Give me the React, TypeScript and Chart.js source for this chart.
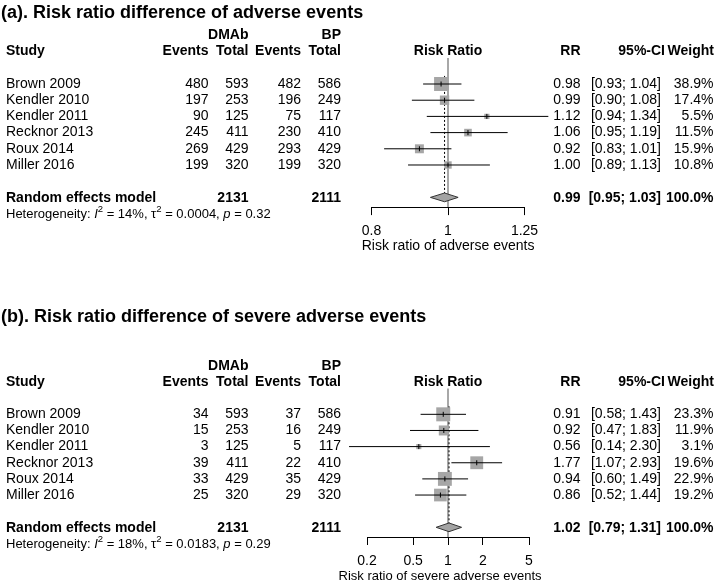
import React, { useEffect, useRef } from 'react';
import { Chart, registerables } from 'chart.js';

Chart.register(...registerables);

const FONT = "'Liberation Sans', Arial, Helvetica, sans-serif";

// ---------- shared data ----------
const studies = ['Brown 2009', 'Kendler 2010', 'Kendler 2011', 'Recknor 2013', 'Roux 2014', 'Miller 2016'];
const dmabTotals = [593, 253, 125, 411, 429, 320];
const bpTotals = [586, 249, 117, 410, 429, 320];

// ---------- panel (a) ----------
const aTitle = '(a). Risk ratio difference of adverse events';
const aDmabEvents = [480, 197, 90, 245, 269, 199];
const aBpEvents = [482, 196, 75, 230, 293, 199];
const aRR = [0.98, 0.99, 1.12, 1.06, 0.92, 1.0];
const aLower = [0.93, 0.9, 0.94, 0.95, 0.83, 0.89];
const aUpper = [1.04, 1.08, 1.34, 1.19, 1.01, 1.13];
const aWeight = [38.9, 17.4, 5.5, 11.5, 15.9, 10.8];
const aPooled = [0.99, 0.95, 1.03];
const aTotals = [2131, 2111];
const aHet = ['14%', '0.0004', '0.32'];
const aTicks = [0.8, 1, 1.25];
const aTickLabels = ['0.8', '1', '1.25'];
const aAxisTitle = 'Risk ratio of adverse events';

// ---------- panel (b) ----------
const bTitle = '(b). Risk ratio difference of severe adverse events';
const bDmabEvents = [34, 15, 3, 39, 33, 25];
const bBpEvents = [37, 16, 5, 22, 35, 29];
const bRR = [0.91, 0.92, 0.56, 1.77, 0.94, 0.86];
const bLower = [0.58, 0.47, 0.14, 1.07, 0.6, 0.52];
const bUpper = [1.43, 1.83, 2.3, 2.93, 1.49, 1.44];
const bWeight = [23.3, 11.9, 3.1, 19.6, 22.9, 19.2];
const bPooled = [1.02, 0.79, 1.31];
const bTotals = [2131, 2111];
const bHet = ['18%', '0.0183', '0.29'];
const bTicks = [0.2, 0.5, 1, 2, 5];
const bTickLabels = ['0.2', '0.5', '1', '2', '5'];
const bAxisTitle = 'Risk ratio of severe adverse events';

// ---------- layout (positions / styles) ----------
const Y_TOP = -0.6;
const Y_BOTTOM = 8.6;
const POOLED_ROW = 8;
const COL = {
  study: 6,
  dmabEv: 208.5,
  dmabTot: 248.5,
  bpEv: 301,
  bpTot: 341,
  rr: 580.5,
  ci: 661,
  ciHead: 665,
  w: 713.5,
  wHead: 714,
};
const MAX_SQUARE = 14;

type Panel = {
  title: string;
  ev1: number[];
  ev2: number[];
  rr: number[];
  lo: number[];
  hi: number[];
  weight: number[];
  pooled: number[];
  totals: number[];
  het: string[];
  ticks: number[];
  tickLabels: string[];
  axisTitle: string;
  axisTitleX: number;
  axisTitleSize: number;
  top: number;
  height: number;
  padTop: number;
  padBottom: number;
  padLeft: number;
  padRight: number;
  titleY: number;
};

const panelA: Panel = {
  title: aTitle, ev1: aDmabEvents, ev2: aBpEvents, rr: aRR, lo: aLower, hi: aUpper,
  weight: aWeight, pooled: aPooled, totals: aTotals, het: aHet, ticks: aTicks,
  tickLabels: aTickLabels, axisTitle: aAxisTitle, axisTitleX: 361.7, axisTitleSize: 14,
  top: 0, height: 292, padTop: 58.1, padBottom: 34.9, padLeft: 371.5, padRight: 192.5, titleY: 12.7,
};

const panelB: Panel = {
  title: bTitle, ev1: bDmabEvents, ev2: bBpEvents, rr: bRR, lo: bLower, hi: bUpper,
  weight: bWeight, pooled: bPooled, totals: bTotals, het: bHet, ticks: bTicks,
  tickLabels: bTickLabels, axisTitle: bAxisTitle, axisTitleX: 338.5, axisTitleSize: 13,
  top: 292, height: 300, padTop: 96.5, padBottom: 5, padLeft: 367, padRight: 188, titleY: 24.7,
};

function txt(ctx: CanvasRenderingContext2D, s: string, x: number, y: number, align: CanvasTextAlign) {
  ctx.textAlign = align;
  ctx.fillText(s, x, y);
}

function drawHet(ctx: CanvasRenderingContext2D, x: number, y: number, het: string[]) {
  const n = `13px ${FONT}`;
  const it = `italic 13px ${FONT}`;
  const sup = `9.5px ${FONT}`;
  const parts = [
    { t: 'Heterogeneity: ', f: n, dy: 0 },
    { t: 'I', f: it, dy: 0 },
    { t: '2', f: sup, dy: -5 },
    { t: ` = ${het[0]}, \u03C4`, f: n, dy: 0 },
    { t: '2', f: sup, dy: -5 },
    { t: ` = ${het[1]}, `, f: n, dy: 0 },
    { t: 'p', f: it, dy: 0 },
    { t: ` = ${het[2]}`, f: n, dy: 0 },
  ];
  ctx.textAlign = 'left';
  let cx = x;
  for (const p of parts) {
    ctx.font = p.f;
    ctx.fillText(p.t, cx, y + p.dy);
    cx += ctx.measureText(p.t).width;
  }
}

function drawTable(chart: any, p: Panel) {
  const ctx: CanvasRenderingContext2D = chart.ctx;
  const ys = chart.scales.y;
  const xs = chart.scales.x;
  const rowY = (r: number) => ys.getPixelForValue(r);
  ctx.save();
  ctx.fillStyle = '#000';
  ctx.textBaseline = 'middle';

  ctx.font = `bold 18px ${FONT}`;
  txt(ctx, p.title, 1, p.titleY, 'left');

  ctx.font = `bold 14px ${FONT}`;
  txt(ctx, 'DMAb', COL.dmabTot, rowY(-2), 'right');
  txt(ctx, 'BP', COL.bpTot, rowY(-2), 'right');
  const hy = rowY(-1);
  txt(ctx, 'Study', COL.study, hy, 'left');
  txt(ctx, 'Events', COL.dmabEv, hy, 'right');
  txt(ctx, 'Total', COL.dmabTot, hy, 'right');
  txt(ctx, 'Events', COL.bpEv, hy, 'right');
  txt(ctx, 'Total', COL.bpTot, hy, 'right');
  txt(ctx, 'Risk Ratio', xs.getPixelForValue(1), hy, 'center');
  txt(ctx, 'RR', COL.rr, hy, 'right');
  txt(ctx, '95%-CI', COL.ciHead, hy, 'right');
  txt(ctx, 'Weight', COL.wHead, hy, 'right');

  ctx.font = `14px ${FONT}`;
  studies.forEach((s, i) => {
    const y = rowY(i + 1);
    txt(ctx, s, COL.study, y, 'left');
    txt(ctx, String(p.ev1[i]), COL.dmabEv, y, 'right');
    txt(ctx, String(dmabTotals[i]), COL.dmabTot, y, 'right');
    txt(ctx, String(p.ev2[i]), COL.bpEv, y, 'right');
    txt(ctx, String(bpTotals[i]), COL.bpTot, y, 'right');
    txt(ctx, p.rr[i].toFixed(2), COL.rr, y, 'right');
    txt(ctx, `[${p.lo[i].toFixed(2)}; ${p.hi[i].toFixed(2)}]`, COL.ci, y, 'right');
    txt(ctx, `${p.weight[i].toFixed(1)}%`, COL.w, y, 'right');
  });

  ctx.font = `bold 14px ${FONT}`;
  const py = rowY(POOLED_ROW) + 1.2;
  txt(ctx, 'Random effects model', COL.study, py, 'left');
  txt(ctx, String(p.totals[0]), COL.dmabTot, py, 'right');
  txt(ctx, String(p.totals[1]), COL.bpTot, py, 'right');
  txt(ctx, p.pooled[0].toFixed(2), COL.rr, py, 'right');
  txt(ctx, `[${p.pooled[1].toFixed(2)}; ${p.pooled[2].toFixed(2)}]`, COL.ci, py, 'right');
  txt(ctx, '100.0%', COL.w, py, 'right');

  drawHet(ctx, COL.study, rowY(POOLED_ROW + 1) + 1.2, p.het);

  // x-axis title (drawn here so it is not squeezed to the axis width)
  ctx.font = `${p.axisTitleSize}px ${FONT}`;
  txt(ctx, p.axisTitle, p.axisTitleX, chart.chartArea.bottom + 39.5, 'left');
  ctx.restore();
}

function buildConfig(p: Panel): any {
  const maxW = Math.max(...p.weight);
  const points = p.rr.map((v, i) => ({ x: v, y: i + 1 }));
  const datasets: any[] = [];
  // reference line at RR = 1
  datasets.push({
    type: 'line',
    data: [{ x: 1, y: Y_TOP }, { x: 1, y: Y_BOTTOM }],
    borderColor: '#8c8c8c', borderWidth: 1.5, pointRadius: 0, order: 10, clip: false,
  });
  // pooled estimate dotted line
  datasets.push({
    type: 'line',
    data: [{ x: p.pooled[0], y: 0.5 }, { x: p.pooled[0], y: POOLED_ROW }],
    borderColor: '#000', borderWidth: 1, borderDash: [2, 2], pointRadius: 0, order: 9, clip: false,
  });
  // weight squares
  datasets.push({
    type: 'scatter',
    data: points,
    pointStyle: 'rect',
    pointRadius: p.weight.map((w) => (MAX_SQUARE * Math.sqrt(w / maxW)) / Math.SQRT2),
    pointBackgroundColor: '#a6a6a6',
    pointBorderWidth: 0,
    order: 8, clip: false,
  });
  // confidence intervals
  p.rr.forEach((_, i) => {
    datasets.push({
      type: 'line',
      data: [{ x: p.lo[i], y: i + 1 }, { x: p.hi[i], y: i + 1 }],
      borderColor: '#000', borderWidth: 1, pointRadius: 0, order: 5, clip: false,
    });
  });
  // point estimate tick marks
  datasets.push({
    type: 'scatter',
    data: points,
    pointStyle: 'line',
    pointRotation: 90,
    pointRadius: 2.5,
    pointBorderColor: '#000',
    pointBorderWidth: 1,
    order: 4, clip: false,
  });
  // pooled diamond
  const h = 0.27;
  datasets.push({
    type: 'line',
    data: [
      { x: p.pooled[1], y: POOLED_ROW },
      { x: p.pooled[0], y: POOLED_ROW - h },
      { x: p.pooled[2], y: POOLED_ROW },
      { x: p.pooled[0], y: POOLED_ROW + h },
      { x: p.pooled[1], y: POOLED_ROW },
    ],
    fill: 'shape',
    backgroundColor: '#a3a3a3',
    borderColor: '#333',
    borderWidth: 1,
    pointRadius: 0,
    tension: 0,
    order: 3, clip: false,
  });

  return {
    type: 'scatter',
    data: { datasets },
    options: {
      animation: false,
      responsive: false,
      events: [],
      layout: { padding: { top: p.padTop, bottom: p.padBottom, left: p.padLeft, right: p.padRight } },
      plugins: { legend: { display: false }, tooltip: { enabled: false }, title: { display: false } },
      scales: {
        x: {
          type: 'logarithmic',
          min: p.ticks[0],
          max: p.ticks[p.ticks.length - 1],
          afterBuildTicks: (axis: any) => {
            axis.ticks = p.ticks.map((v) => ({ value: v }));
          },
          afterFit: (axis: any) => {
            axis.height = 50;
          },
          ticks: {
            autoSkip: false, maxRotation: 0, minRotation: 0, padding: 7.5, color: '#000',
            font: { family: FONT, size: 14 },
            callback: (_v: any, i: number) => p.tickLabels[i],
          },
          grid: { display: true, drawOnChartArea: false, drawTicks: true, tickLength: 8, color: '#000', lineWidth: 1 },
          border: { display: true, color: '#000', width: 1 },
          title: { display: false },
        },
        y: { type: 'linear', display: false, reverse: true, min: Y_TOP, max: Y_BOTTOM },
      },
    },
    plugins: [{ id: 'forestTable', afterDraw: (chart: any) => drawTable(chart, p) }],
  };
}

function ForestPanel({ panel }: { panel: Panel }) {
  const ref = useRef<HTMLCanvasElement>(null);
  useEffect(() => {
    const chart = new Chart(ref.current as HTMLCanvasElement, buildConfig(panel));
    return () => chart.destroy();
  }, [panel]);
  return (
    <canvas
      ref={ref}
      width={717}
      height={panel.height}
      style={{ position: 'absolute', left: 0, top: panel.top, width: 717, height: panel.height, display: 'block' }}
    />
  );
}

export default function App() {
  return (
    <div
      style={{
        position: 'fixed', left: 0, top: 0, width: 717, height: 584,
        overflow: 'hidden', background: '#fff',
      }}
    >
      <ForestPanel panel={panelA} />
      <ForestPanel panel={panelB} />
    </div>
  );
}
